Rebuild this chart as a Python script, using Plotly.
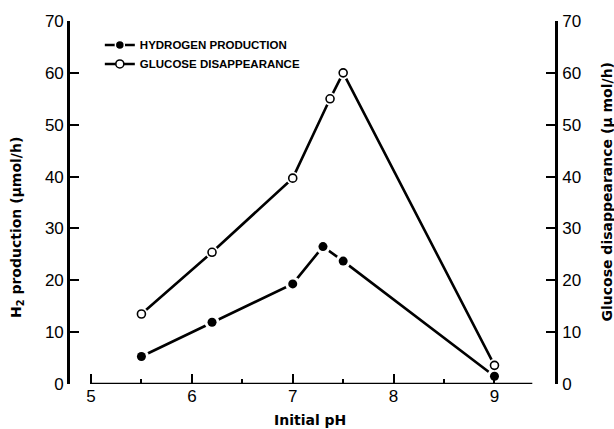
import plotly.graph_objects as go

ph_h2 = [5.5, 6.2, 7.0, 7.3, 7.5, 9.0]
h2_prod = [5.3, 11.9, 19.3, 26.5, 23.7, 1.5]

ph_glu = [5.5, 6.2, 7.0, 7.37, 7.5, 9.0]
glu_dis = [13.5, 25.4, 39.7, 55.0, 60.0, 3.6]

x_ticks = [5, 6, 7, 8, 9]
x_minor = [5.5, 6.5, 7.5, 8.5]
y_ticks = [0, 10, 20, 30, 40, 50, 60, 70]

FONT = "Liberation Sans"
TFONT = "DejaVu Sans"
fig = go.Figure()

# lines
fig.add_trace(go.Scatter(x=ph_h2, y=h2_prod, mode="lines", line=dict(color="black", width=2.6),
                         showlegend=False, hoverinfo="skip", cliponaxis=False))
fig.add_trace(go.Scatter(x=ph_glu, y=glu_dis, mode="lines", line=dict(color="black", width=2.6),
                         showlegend=False, hoverinfo="skip", cliponaxis=False))
# white halos to make gaps around markers
fig.add_trace(go.Scatter(x=ph_h2, y=h2_prod, mode="markers",
                         marker=dict(color="white", size=15, line=dict(width=0)),
                         showlegend=False, hoverinfo="skip", cliponaxis=False))
fig.add_trace(go.Scatter(x=ph_glu, y=glu_dis, mode="markers",
                         marker=dict(color="white", size=13, line=dict(width=0)),
                         showlegend=False, hoverinfo="skip", cliponaxis=False))
# markers
fig.add_trace(go.Scatter(x=ph_h2, y=h2_prod, mode="markers", name="HYDROGEN PRODUCTION",
                         marker=dict(color="black", size=9, line=dict(width=0)),
                         showlegend=False, cliponaxis=False))
fig.add_trace(go.Scatter(x=ph_glu, y=glu_dis, mode="markers", name="GLUCOSE DISAPPEARANCE",
                         marker=dict(color="white", size=8, line=dict(color="black", width=1.6)),
                         showlegend=False, cliponaxis=False))
# legend entries
fig.add_trace(go.Scatter(x=[None], y=[None], mode="lines+markers", name="<b>HYDROGEN PRODUCTION</b>",
                         line=dict(color="black", width=2.6),
                         marker=dict(color="black", size=9, line=dict(color="white", width=1.5))))
fig.add_trace(go.Scatter(x=[None], y=[None], mode="lines+markers", name="<b>GLUCOSE DISAPPEARANCE</b>",
                         line=dict(color="black", width=2.6),
                         marker=dict(color="white", size=8, line=dict(color="black", width=1.6))))
# dummy for right axis
fig.add_trace(go.Scatter(x=[None], y=[None], yaxis="y2", showlegend=False, hoverinfo="skip"))

# x axis line (detached)
fig.add_shape(type="line", xref="x", yref="y", x0=x_ticks[0], x1=9.375, y0=0, y1=0,
              line=dict(color="black", width=2.6))

fig.update_layout(
    width=614, height=429,
    margin=dict(l=70, r=59, t=21, b=45),
    paper_bgcolor="white", plot_bgcolor="white",
    font=dict(family=FONT, color="black"),
    xaxis=dict(range=[4.792, 9.6], tickmode="array", tickvals=x_ticks,
               ticktext=[str(v) for v in x_ticks],
               ticks="inside", ticklen=10, tickwidth=2, tickcolor="black",
               minor=dict(tickmode="array", tickvals=x_minor, ticks="inside", ticklen=5,
                          tickwidth=2, tickcolor="black"),
               showline=False, showgrid=False, zeroline=False,
               tickfont=dict(size=17, family=FONT)),
    yaxis=dict(range=[0, 70], tickmode="array", tickvals=y_ticks,
               ticks="inside", ticklen=9, tickwidth=2, tickcolor="black",
               showline=True, linecolor="black", linewidth=2.6,
               showgrid=False, zeroline=False, tickfont=dict(size=17, family=FONT)),
    yaxis2=dict(range=[0, 70], tickmode="array", tickvals=y_ticks, overlaying="y", side="right",
                ticks="inside", ticklen=9, tickwidth=2, tickcolor="black",
                showline=True, linecolor="black", linewidth=2.6, ticklabelstandoff=1,
                showgrid=False, zeroline=False, tickfont=dict(size=17, family=FONT)),
    legend=dict(x=0.0615, y=0.974, xanchor="left", yanchor="top", bgcolor="rgba(0,0,0,0)",
                font=dict(size=11.5, family=FONT), tracegroupgap=0, itemwidth=30),
    showlegend=True,
)

fig.add_annotation(text="<b>H<sub>2</sub> production (μmol/h)</b>", xref="paper", yref="paper",
                   x=-0.109, y=0.43, xanchor="center", yanchor="middle", textangle=-90,
                   showarrow=False, font=dict(size=14, family=TFONT))
fig.add_annotation(text="<b>Glucose disappearance (μ mol/h)</b>", xref="paper", yref="paper",
                   x=1.107, y=0.53, xanchor="center", yanchor="middle", textangle=-90,
                   showarrow=False, font=dict(size=14, family=TFONT))
fig.add_annotation(text="<b>Initial pH</b>", xref="paper", yref="paper",
                   x=0.495, y=-0.098, xanchor="center", yanchor="middle",
                   showarrow=False, font=dict(size=14, family=TFONT))

fig.write_html("out.html", config={"displayModeBar": False},
               post_script="document.body.style.margin='0';document.body.style.overflow='hidden';")
